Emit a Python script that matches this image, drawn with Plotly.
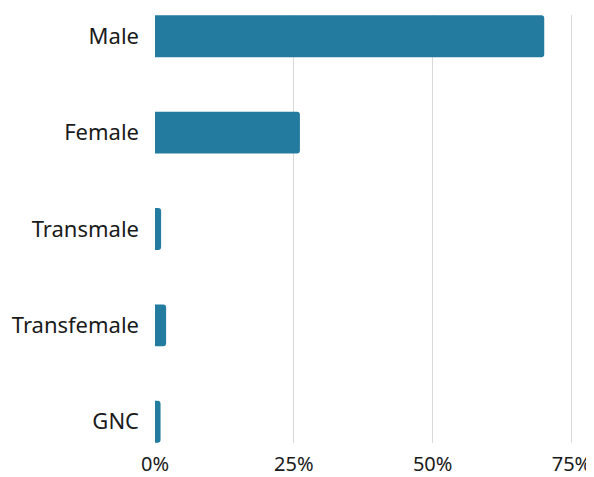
import plotly.graph_objects as go

categories = ["Male", "Female", "Transmale", "Transfemale", "GNC"]
shares = [70.1, 26.1, 1.1, 2.0, 1.0]
tick_vals = [0, 25, 50, 75]
tick_text = ["0%", "25%", "50%", "75%"]

fig = go.Figure(
    go.Bar(
        x=shares,
        y=categories,
        orientation="h",
        width=0.435,
        marker={"color": "#247BA0", "line": {"width": 0}},
        hoverinfo="x+y",
    )
)

# page body has an 8px margin, so the figure is sized to fit inside the window
fig.update_layout(
    width=586,
    height=469,
    margin={"l": 147, "r": 17, "t": 7, "b": 34},
    plot_bgcolor="white",
    paper_bgcolor="white",
    barcornerradius=3,
    showlegend=False,
    font={"family": "Noto Sans, Open Sans, sans-serif", "size": 22, "color": "#1a1a1a"},
)
fig.update_xaxes(
    range=[0, 76],
    tickvals=tick_vals,
    ticktext=tick_text,
    tickfont={"size": 20},
    showgrid=True,
    gridcolor="#d9d9d9",
    gridwidth=1,
    zeroline=False,
    showline=False,
    ticks="",
    ticklabelstandoff=7,
    automargin=False,
)
fig.update_yaxes(
    categoryorder="array",
    categoryarray=categories,
    autorange=False,
    range=[4.22, -0.22],
    showgrid=False,
    zeroline=False,
    showline=False,
    ticks="",
    ticklabelstandoff=15,
    automargin=False,
)

fig.write_html("out.html")
